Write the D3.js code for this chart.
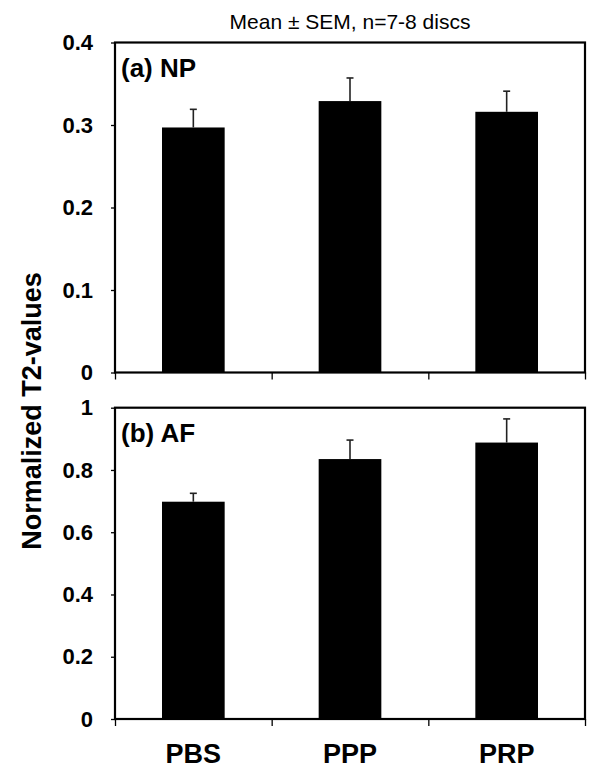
<!DOCTYPE html>
<html><head><meta charset="utf-8">
<script src="https://cdn.jsdelivr.net/npm/d3@7"></script>
<style>body{margin:0;background:#fff}svg{display:block}text{font-family:"Liberation Sans",Arial,sans-serif}</style>
</head><body>
<svg id="c" width="600" height="780"></svg>
<script>
const categories = ["PBS", "PPP", "PRP"];
const npMeans = [0.297, 0.329, 0.316];
const npSEM = [0.022, 0.028, 0.025];
const afMeans = [0.698, 0.835, 0.888];
const afSEM = [0.027, 0.061, 0.076];
const npTicks = [0, 0.1, 0.2, 0.3, 0.4];
const afTicks = [0, 0.2, 0.4, 0.6, 0.8, 1];
const titleText = "Mean \u00B1 SEM, n=7-8 discs";
const yTitle = "Normalized T2-values";

const svg = d3.select("#c");
const L = 115, R = 585;
const x = d3.scaleBand().domain(categories).range([L, R]).paddingInner(0.6).paddingOuter(0.3);
const xb = d3.scaleLinear().domain([0, categories.length]).range([L, R]);

function panel(top, bottom, maxV, ticks, means, sems, label) {
  const y = d3.scaleLinear().domain([0, maxV]).range([bottom, top]);
  const g = svg.append("g");
  // bars
  g.selectAll("rect.bar").data(categories).enter().append("rect")
    .attr("x", d => x(d)).attr("width", x.bandwidth())
    .attr("y", (d, i) => y(means[i])).attr("height", (d, i) => y(0) - y(means[i]))
    .attr("fill", "#000");
  // error bars (upper)
  g.selectAll("line.eb").data(categories).enter().append("line")
    .attr("x1", d => x(d) + x.bandwidth() / 2).attr("x2", d => x(d) + x.bandwidth() / 2)
    .attr("y1", (d, i) => y(means[i])).attr("y2", (d, i) => y(means[i] + sems[i]))
    .attr("stroke", "#222").attr("stroke-width", 1.6);
  g.selectAll("line.cap").data(categories).enter().append("line")
    .attr("x1", d => x(d) + x.bandwidth() / 2 - 3.5).attr("x2", d => x(d) + x.bandwidth() / 2 + 3.5)
    .attr("y1", (d, i) => y(means[i] + sems[i])).attr("y2", (d, i) => y(means[i] + sems[i]))
    .attr("stroke", "#222").attr("stroke-width", 1.6);
  // y axis
  const ya = d3.axisLeft(y).tickValues(ticks).tickSize(4).tickPadding(18)
    .tickFormat(d => d === 0 ? "0" : (d === 1 ? "1" : d3.format(".1f")(d)));
  const yg = g.append("g").attr("transform", `translate(${L},0)`).call(ya);
  yg.select(".domain").remove();
  yg.selectAll("line").attr("stroke", "#000").attr("stroke-width", 1.3);
  yg.selectAll("text").attr("font-size", 22).attr("font-weight", "bold").attr("fill", "#000")
    .attr("font-family", "'Liberation Sans', Arial, sans-serif");
  // x ticks at band boundaries
  const xa = d3.axisBottom(xb).tickValues(d3.range(categories.length + 1)).tickSize(7).tickFormat("");
  const xg = g.append("g").attr("transform", `translate(0,${bottom})`).call(xa);
  xg.select(".domain").remove();
  xg.selectAll("line").attr("stroke", "#000").attr("stroke-width", 1.3);
  // frame
  g.append("rect").attr("x", L).attr("y", top).attr("width", R - L).attr("height", bottom - top)
    .attr("fill", "none").attr("stroke", "#000").attr("stroke-width", 2.2);
  g.append("text").attr("x", L + 6).attr("y", top + 34).text(label)
    .attr("font-size", 26).attr("font-weight", "bold");
  return y;
}

panel(42.5, 372.5, 0.4, npTicks, npMeans, npSEM, "(a) NP");
panel(407.7, 719, 1, afTicks, afMeans, afSEM, "(b) AF");

svg.append("text").attr("x", (L + R) / 2).attr("y", 29).attr("text-anchor", "middle")
  .attr("font-size", 21).text(titleText);

svg.append("text").attr("transform", "translate(41,411) rotate(-90)").attr("text-anchor", "middle")
  .attr("font-size", 27).attr("font-weight", "bold").text(yTitle);

svg.selectAll("text.cat").data(categories).enter().append("text").attr("class", "cat")
  .attr("x", d => x(d) + x.bandwidth() / 2).attr("y", 763).attr("text-anchor", "middle")
  .attr("font-size", 27).attr("font-weight", "bold").text(d => d);
</script>
</body></html>
